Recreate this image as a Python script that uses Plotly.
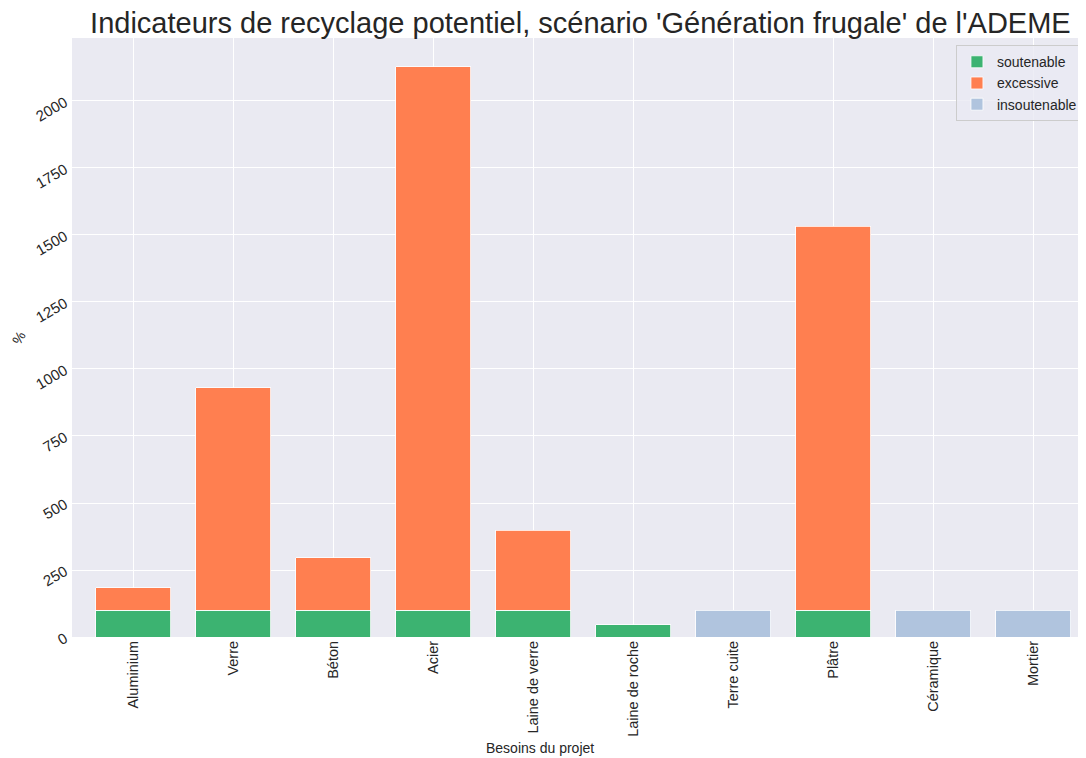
import plotly.graph_objects as go

# données
materiaux = ["Aluminium", "Verre", "Béton", "Acier", "Laine de verre", "Laine de roche",
             "Terre cuite", "Plâtre", "Céramique", "Mortier"]
soutenable = [100, 100, 100, 100, 100, 45, None, 100, None, None]
excessive = [83, 830, 195, 2028, 299, None, None, 1433, None, None]
insoutenable = [None, None, None, None, None, None, 100, None, 100, 100]

titre = "Indicateurs de recyclage potentiel, scénario 'Génération frugale' de l'ADEME"
y_ticks = [0, 250, 500, 750, 1000, 1250, 1500, 1750, 2000]

text_color = "#262626"

fig = go.Figure()
for name, vals, color in [("soutenable", soutenable, "#3CB371"),
                          ("excessive", excessive, "#FF7F50"),
                          ("insoutenable", insoutenable, "#B0C4DE")]:
    fig.add_trace(go.Bar(x=materiaux, y=vals, name=name, width=0.75,
                         marker=dict(color=color, line=dict(color="white", width=0.8))))

# la page html ajoute 8px de marge : la figure fait donc 1078x750
fig.update_layout(
    barmode="stack",
    width=1078, height=750,
    margin=dict(l=64, r=0, t=30, b=121),
    paper_bgcolor="white",
    plot_bgcolor="#EAEAF2",
    font=dict(family="Liberation Sans, Arial, sans-serif", color=text_color, size=14),
    title=dict(text=titre, x=0.531, xanchor="center", y=0.98, yanchor="middle",
               font=dict(size=29, color=text_color)),
    legend=dict(x=0.997, xanchor="right", y=0.988, yanchor="top",
                bgcolor="rgba(234,234,242,0.8)", bordercolor="#CCCCCC", borderwidth=1,
                font=dict(size=14, color=text_color), traceorder="normal",
                tracegroupgap=0),
    xaxis=dict(range=[-0.61, 9.53], showgrid=True, gridcolor="white", gridwidth=1,
               tickangle=-90, ticks="", showline=False, zeroline=False, automargin=False,
               tickfont=dict(size=14.5, color=text_color)),
    yaxis=dict(range=[0, 2235], tickvals=y_ticks, showgrid=True, gridcolor="white",
               gridwidth=1, tickangle=-30, ticks="", zeroline=False, showline=False,
               automargin=False, ticklabelstandoff=6,
               tickfont=dict(size=15, color=text_color)),
    showlegend=True,
)

fig.add_annotation(text="Besoins du projet", xref="paper", yref="paper",
                   x=0.462, y=-0.185, xanchor="center", yanchor="middle",
                   showarrow=False, font=dict(size=14, color=text_color))
fig.add_annotation(text="%", xref="paper", yref="paper", x=-0.053, y=0.5,
                   xanchor="center", yanchor="middle", textangle=-60,
                   showarrow=False, font=dict(size=14, color=text_color))

fig.write_html("out.html")
